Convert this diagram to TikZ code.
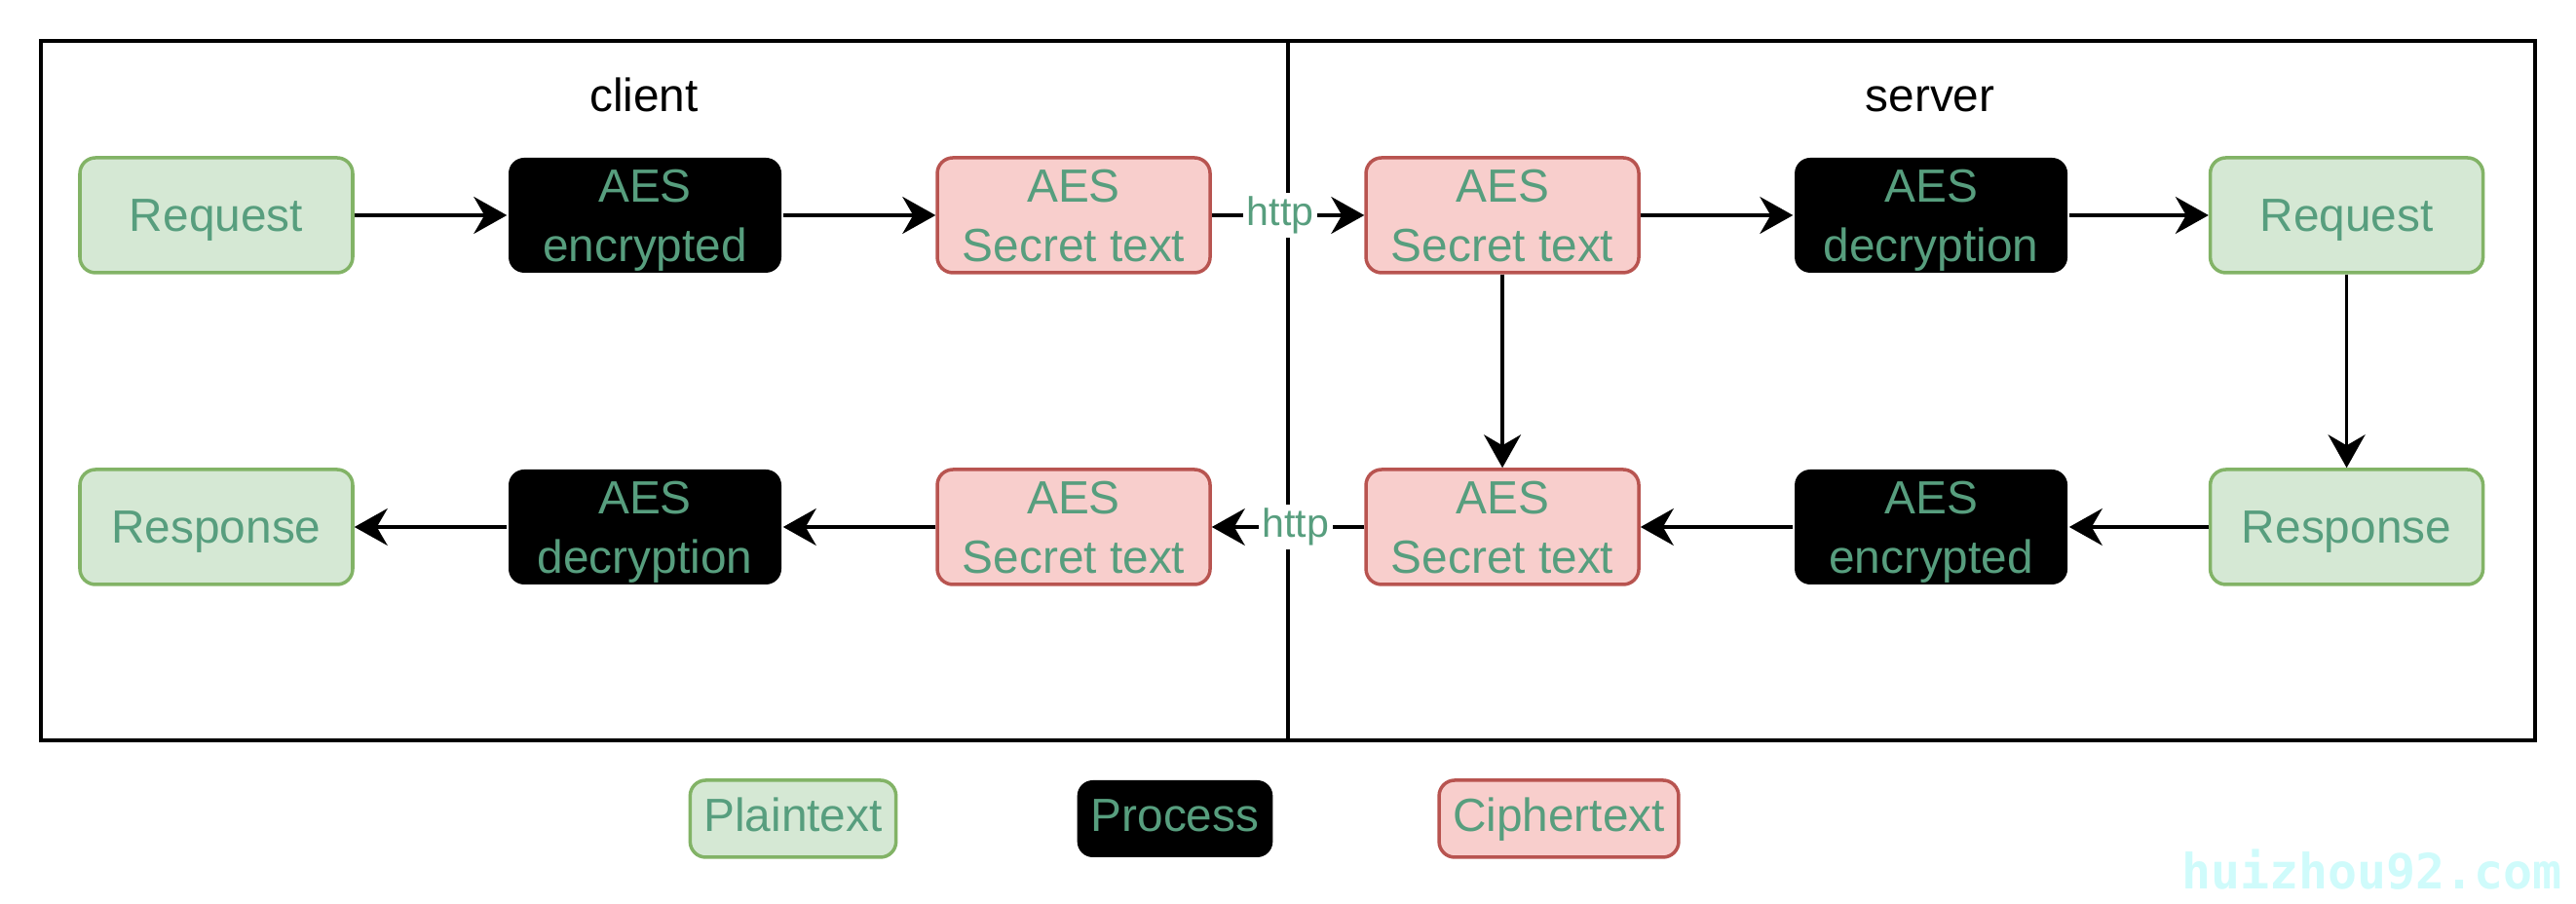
\documentclass[tikz,border=0pt]{standalone}
\usepackage{fontspec}
\setmainfont{Liberation Sans}
\newfontfamily\markfont{DejaVu Sans Mono}
\usetikzlibrary{arrows.meta, positioning}
\usepackage{xcolor}
\definecolor{plainfill}{HTML}{D5E8D4}
\definecolor{plainline}{HTML}{82B366}
\definecolor{cipherfill}{HTML}{F8CECC}
\definecolor{cipherline}{HTML}{B85450}
\definecolor{textgreen}{HTML}{579E7E}
\definecolor{markcyan}{HTML}{CFFBFB}

\tikzset{
  box/.style={rounded corners=0.16cm, minimum width=2.8cm, minimum height=1.18cm,
    align=center, text=textgreen, line width=1pt, inner sep=0pt,
    execute at begin node={\rule{0pt}{0.44cm}},
    execute at end node={\rule[-0.11cm]{0pt}{0pt}}},
  twolines/.style={text depth=0pt},
  plainbox/.style={box, draw=plainline, fill=plainfill},
  procbox/.style={box, fill=black},
  cipherbox/.style={box, draw=cipherline, fill=cipherfill},
  keybox/.style={minimum width=0pt, minimum height=0.79cm, inner xsep=0.14cm,
    text height=0.36cm, text depth=0.09cm},
  flow/.style={-{Stealth[length=0.34cm, width=0.38cm, inset=0.11cm]}, line width=0.9pt},
  wire/.style={font=\fontsize{11.7}{14}\selectfont, text=textgreen, fill=white, inner sep=1pt},
}

\begin{document}
\begin{tikzpicture}[font=\fontsize{13.6}{17.3}\selectfont, node distance=1.985cm and 1.565cm]
  \useasboundingbox (0,0) rectangle (26.44,9.28);

  % frame and split
  \draw[line width=1.1pt] (0.42,1.68) rectangle (26.02,8.86);
  \coordinate (SplitTop) at (13.22,8.86);
  \coordinate (SplitBot) at (13.22,1.68);
  \draw[line width=1.1pt] (SplitTop) -- (SplitBot);
  \node[anchor=base] (Client) at (6.61,8.13) {client};
  \node[anchor=base] (Server) at (19.81,8.13) {server};

  % Row 1: request goes out
  \node[plainbox] (Req1) at (2.22,7.07) {Request};
  \node[procbox, twolines] (Enc1) [right=of Req1] {AES\\encrypted};
  \node[cipherbox, twolines] (Sec1) [right=of Enc1] {AES\\Secret text};
  \node[cipherbox, twolines] (Sec2) [right=of Sec1] {AES\\Secret text};
  \node[procbox, twolines] (Dec1) [right=of Sec2] {AES\\decryption};
  \node[plainbox] (Req2) [right=1.43cm of Dec1] {Request};

  % Row 2: response comes back
  \node[plainbox] (Resp2) [below=of Req2] {Response};
  \node[procbox, twolines] (Enc2) [below=of Dec1] {AES\\encrypted};
  \node[cipherbox, twolines] (Sec3) [below=of Sec2] {AES\\Secret text};
  \node[cipherbox, twolines] (Sec4) [below=of Sec1] {AES\\Secret text};
  \node[procbox, twolines] (Dec2) [below=of Enc1] {AES\\decryption};
  \node[plainbox] (Resp1) [below=of Req1] {Response};

  % legend
  \node[plainbox, keybox] (KeyPlain) at (8.14,0.875) {Plaintext};
  \node[procbox, keybox] (KeyProc) at (12.06,0.875) {Process};
  \node[cipherbox, keybox] (KeyCipher) at (16.0,0.875) {Ciphertext};

  % arrows
  \draw[flow] (Req1) -- (Enc1);
  \draw[flow] (Enc1) -- (Sec1);
  \draw[flow] (Sec1) -- node[wire, pos=0.45]{http} (Sec2);
  \draw[flow] (Sec2) -- (Dec1);
  \draw[flow] (Dec1) -- (Req2);
  \draw[flow] (Req2) -- (Resp2);
  \draw[flow] (Sec2) -- (Sec3);
  \draw[flow] (Resp2) -- (Enc2);
  \draw[flow] (Enc2) -- (Sec3);
  \draw[flow] (Sec3) -- node[wire, pos=0.45]{http} (Sec4);
  \draw[flow] (Sec4) -- (Dec2);
  \draw[flow] (Dec2) -- (Resp1);

  \node[text=markcyan, font={\markfont\bfseries\fontsize{14.2}{16}\selectfont}, anchor=base east] (Mark) at (26.42,0.15) {huizhou92.com};
\end{tikzpicture}
\end{document}
